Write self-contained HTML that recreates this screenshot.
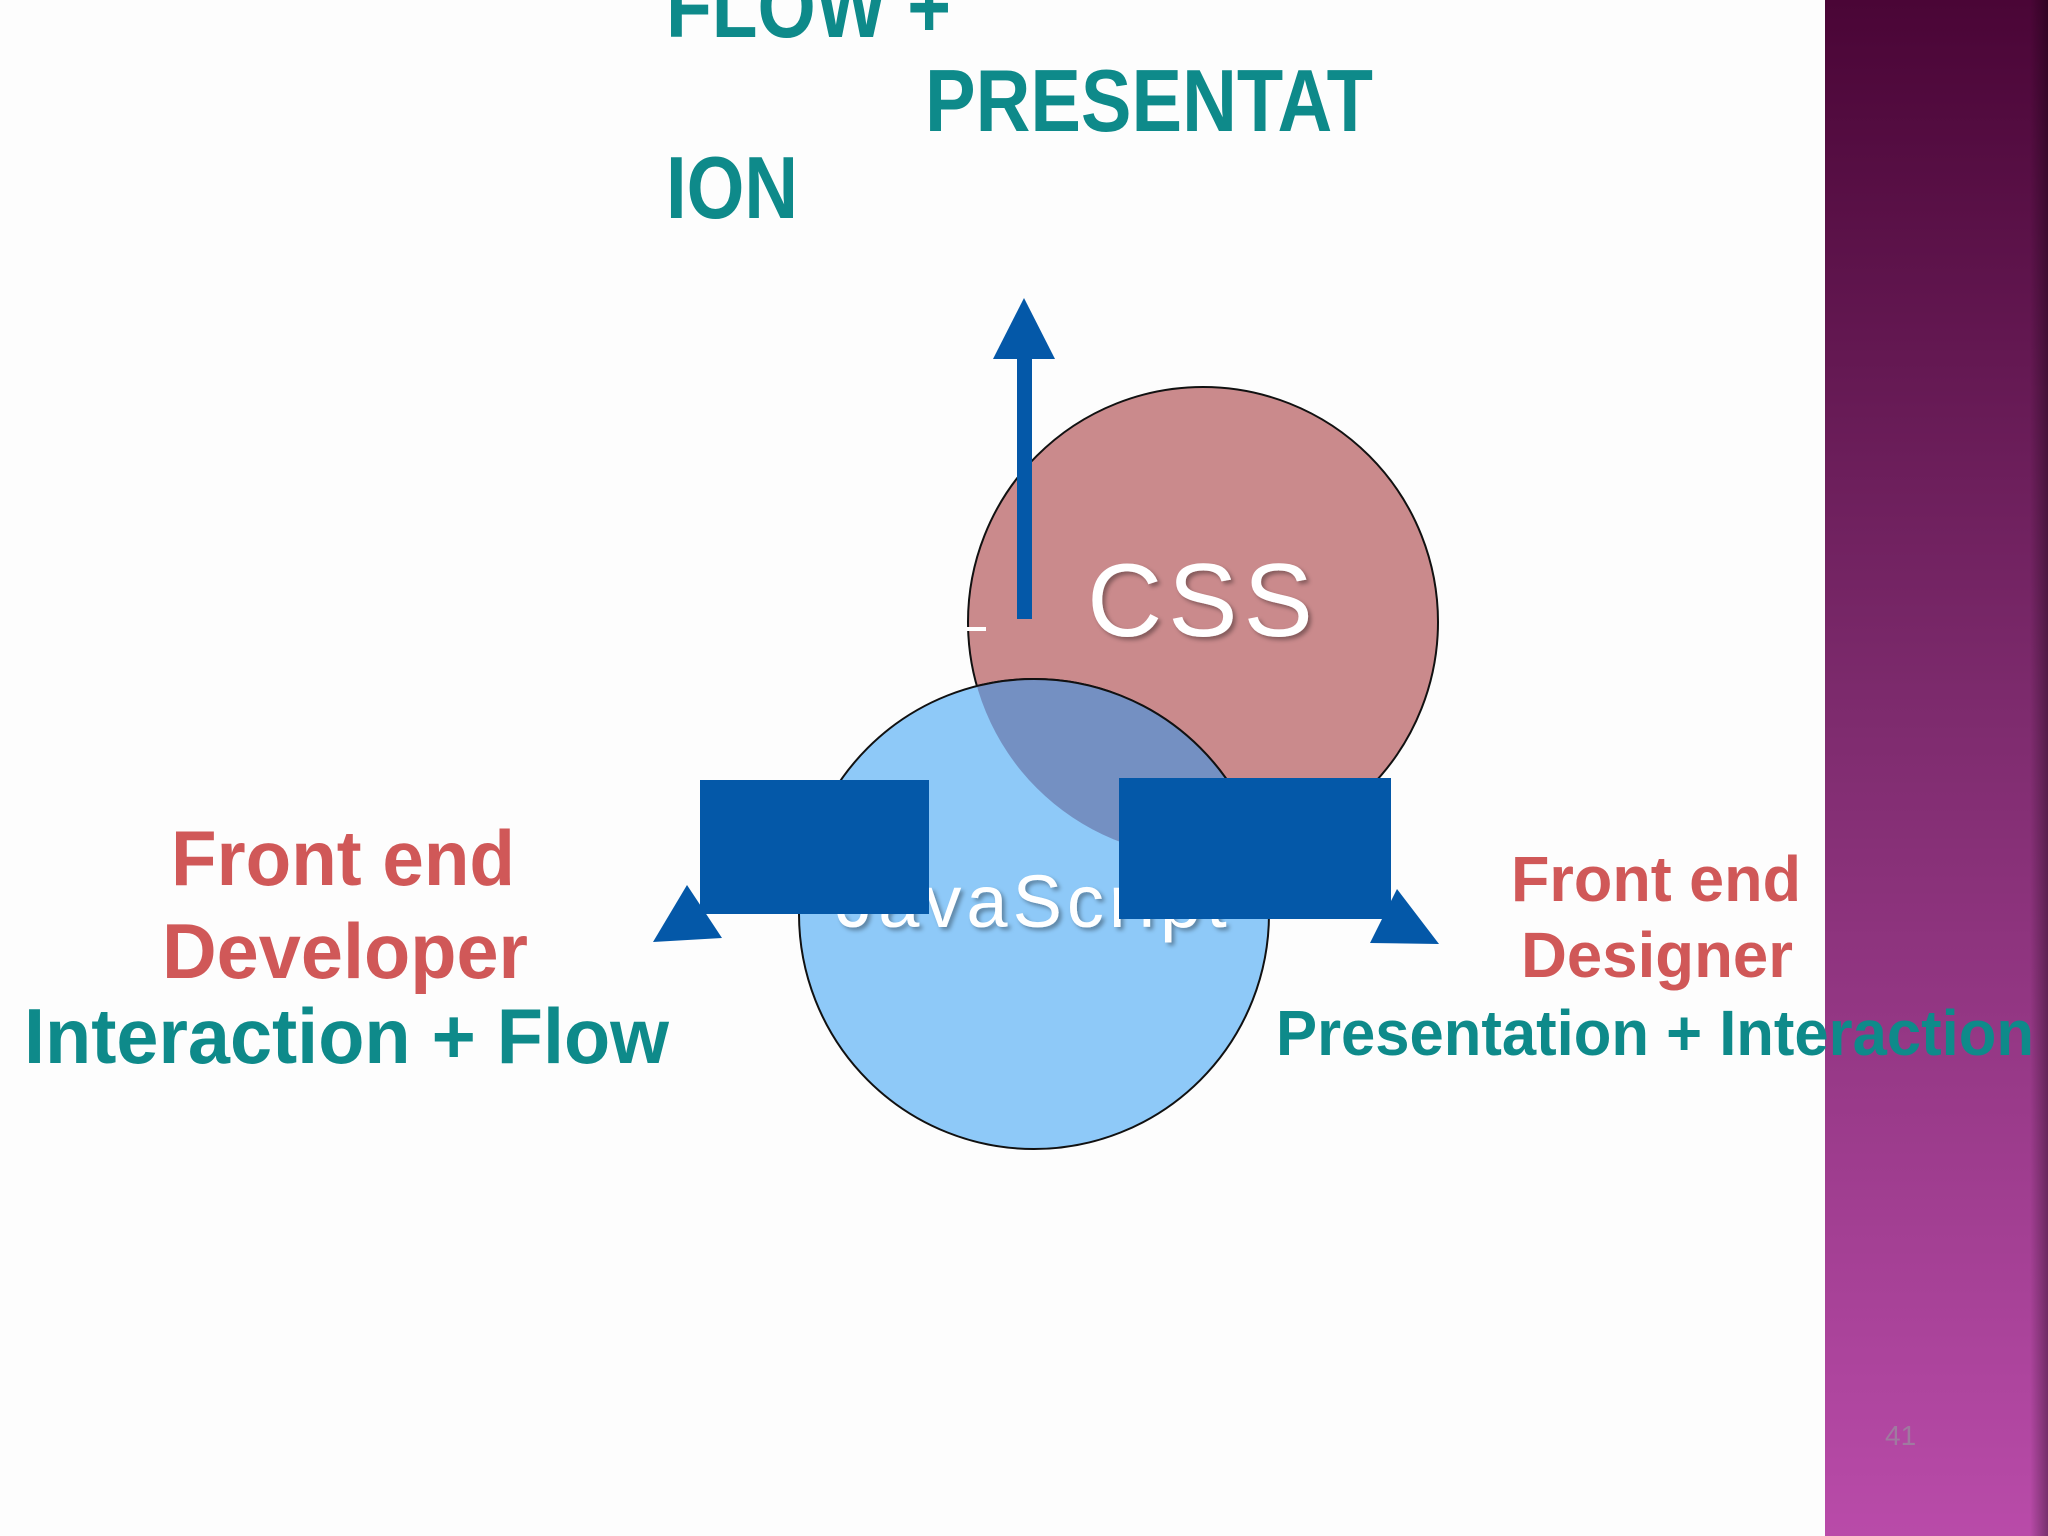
<!DOCTYPE html>
<html><head><meta charset="utf-8"><style>
html,body{margin:0;padding:0;background:#fdfdfd}
svg{display:block}
text{font-family:"Liberation Sans",sans-serif;font-weight:bold}
</style></head><body>
<svg width="2048" height="1536" viewBox="0 0 2048 1536" xmlns="http://www.w3.org/2000/svg">
<defs>
<linearGradient id="bar" x1="0" y1="0" x2="0" y2="1">
<stop offset="0" stop-color="#4a0536"/><stop offset="0.45" stop-color="#7c2a6c"/><stop offset="1" stop-color="#b94ba9"/>
</linearGradient>
<linearGradient id="edge" x1="0" y1="0" x2="1" y2="0">
<stop offset="0" stop-color="#000" stop-opacity="0"/><stop offset="1" stop-color="#000" stop-opacity="0.35"/>
</linearGradient>
<clipPath id="cssc"><circle cx="1203" cy="622" r="235"/></clipPath>
<filter id="sh" x="-10%" y="-10%" width="130%" height="130%"><feDropShadow dx="3" dy="3" stdDeviation="2" flood-color="#000" flood-opacity="0.35"/></filter>
</defs>
<rect x="1825" y="0" width="223" height="1536" fill="url(#bar)"/>
<rect x="2030" y="0" width="18" height="1536" fill="url(#edge)"/>
<text x="1885" y="1445" font-size="28" fill="#a07aa0" font-weight="normal" style="font-weight:normal">41</text>

<text x="666" y="37" font-size="88" fill="#0e8a8a" textLength="285" lengthAdjust="spacingAndGlyphs">FLOW +</text>
<text x="925" y="131" font-size="88" fill="#0e8a8a" textLength="448" lengthAdjust="spacingAndGlyphs">PRESENTAT</text>
<text x="666" y="218" font-size="88" fill="#0e8a8a" textLength="132" lengthAdjust="spacingAndGlyphs">ION</text>

<circle cx="1203" cy="622" r="235" fill="#ca8a8c" stroke="#111" stroke-width="2"/>
<rect x="966" y="627" width="20" height="4" fill="#fff"/>
<text x="1203" y="636" font-size="104" fill="#fff" text-anchor="middle" filter="url(#sh)" style="font-weight:normal;letter-spacing:6px">CSS</text>
<rect x="1017" y="355" width="15" height="264" fill="#0458a8"/>
<polygon points="1024,298 993,359 1055,359" fill="#0458a8"/>

<circle cx="1034" cy="914" r="235" fill="#8ec9f8" stroke="#111" stroke-width="2"/>
<g clip-path="url(#cssc)"><circle cx="1034" cy="914" r="235" fill="#7490c2" stroke="#111" stroke-width="2"/></g>
<text x="1034" y="927" font-size="74" fill="#fff" text-anchor="middle" filter="url(#sh)" style="font-weight:normal;letter-spacing:5px">JavaScript</text>

<rect x="700" y="780" width="229" height="134" fill="#0458a8"/>
<polygon points="687,885 653,942 722,938" fill="#0458a8"/>
<rect x="1119" y="778" width="272" height="141" fill="#0458a8"/>
<polygon points="1397,889 1370,943 1439,944" fill="#0458a8"/>

<text x="343" y="885" font-size="78" fill="#d05858" text-anchor="middle" textLength="344" lengthAdjust="spacingAndGlyphs">Front end</text>
<text x="345" y="978" font-size="78" fill="#d05858" text-anchor="middle" textLength="366" lengthAdjust="spacingAndGlyphs">Developer</text>
<text x="24" y="1063" font-size="78" fill="#0e8a8a" textLength="645" lengthAdjust="spacingAndGlyphs">Interaction + Flow</text>

<text x="1656" y="901" font-size="64" fill="#d05858" text-anchor="middle" textLength="290" lengthAdjust="spacingAndGlyphs">Front end</text>
<text x="1657" y="977" font-size="64" fill="#d05858" text-anchor="middle" textLength="272" lengthAdjust="spacingAndGlyphs">Designer</text>
<text x="1276" y="1055" font-size="64" fill="#0e8a8a" textLength="758" lengthAdjust="spacingAndGlyphs">Presentation + Interaction</text>
</svg>
</body></html>
